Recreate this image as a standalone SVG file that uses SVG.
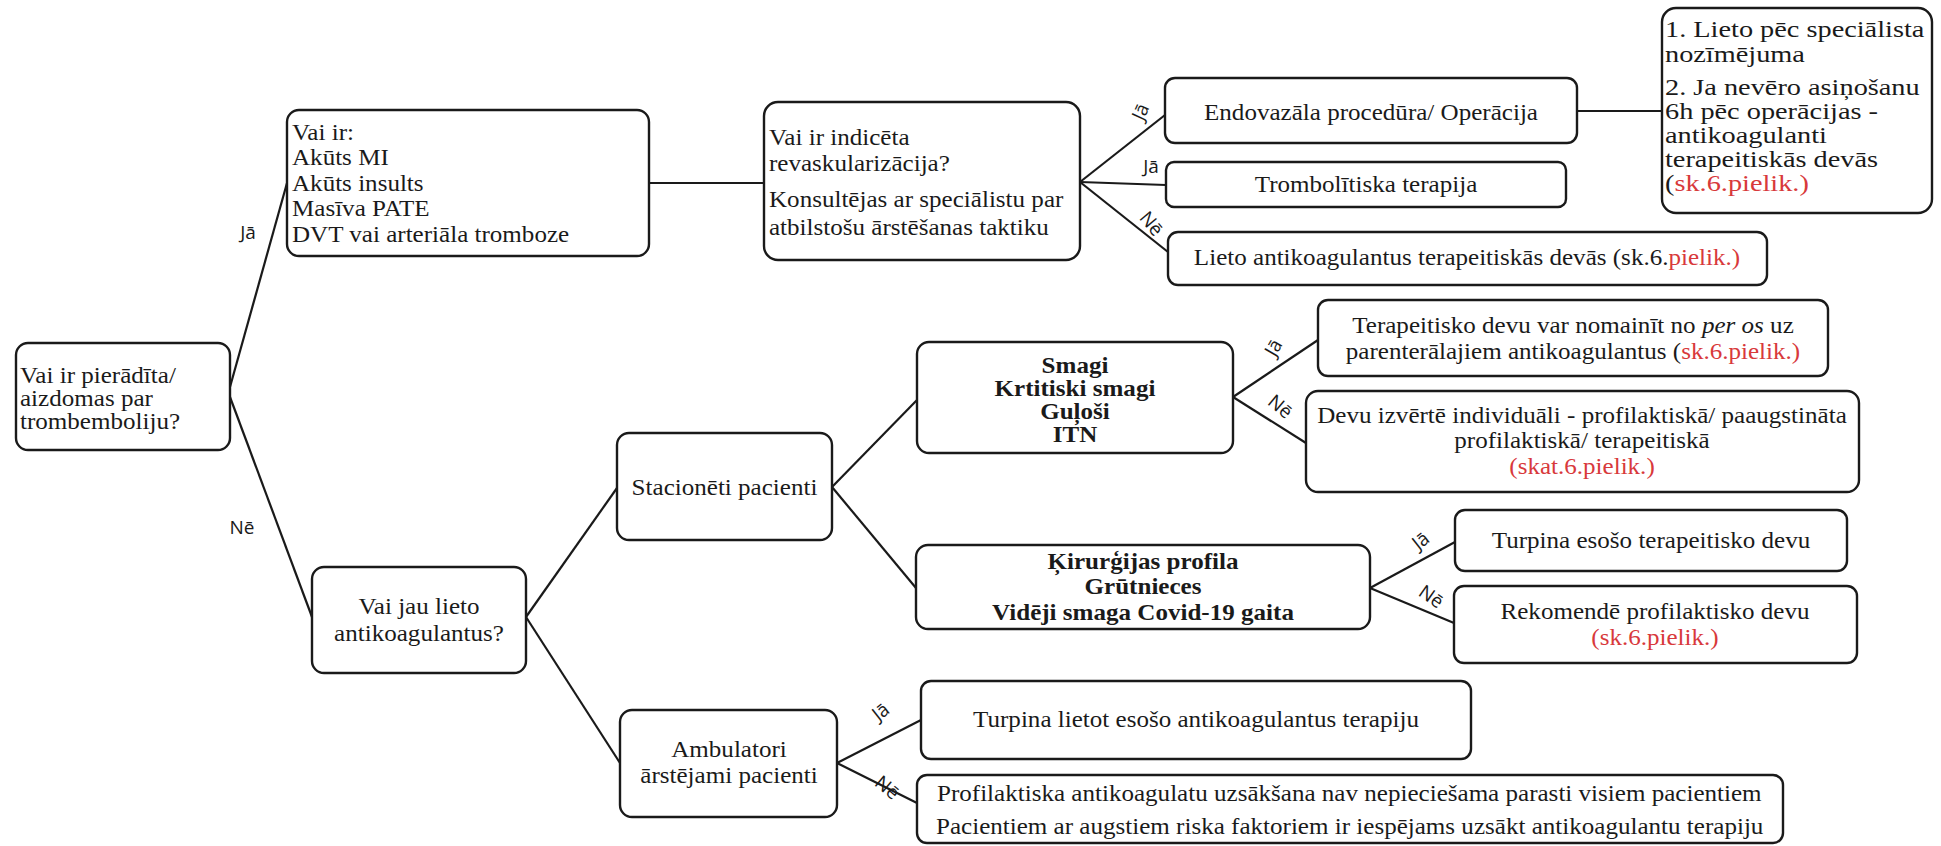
<svg xmlns="http://www.w3.org/2000/svg" width="1941" height="846" viewBox="0 0 1941 846">
<style>
.box{fill:#ffffff;stroke:#1a1a1a;stroke-width:2.4}
.ln{stroke:#1a1a1a;stroke-width:2.2;fill:none}
.t{font-family:"Liberation Serif","Times New Roman",serif;font-size:23px;fill:#1a1a1a}
.s{font-size:24px}
.b{font-weight:bold}
.c{text-anchor:middle}
.r{fill:#d8393b}
.lb{font-family:"Open Sans","Noto Sans",sans-serif;font-size:19px;fill:#1a1a1a;text-anchor:middle}
</style>
<rect width="1941" height="846" fill="#ffffff"/>
<g id="connectors">
<line class="ln" x1="230" y1="387" x2="287" y2="183"/>
<line class="ln" x1="230" y1="397" x2="312" y2="617"/>
<line class="ln" x1="649" y1="183" x2="764" y2="183"/>
<line class="ln" x1="1080" y1="182" x2="1165" y2="115"/>
<line class="ln" x1="1080" y1="182" x2="1166" y2="185"/>
<line class="ln" x1="1080" y1="182" x2="1168" y2="252"/>
<line class="ln" x1="1577" y1="111" x2="1662" y2="111"/>
<line class="ln" x1="526" y1="617" x2="617" y2="488"/>
<line class="ln" x1="526" y1="617" x2="620" y2="763"/>
<line class="ln" x1="832" y1="487" x2="917" y2="400"/>
<line class="ln" x1="832" y1="487" x2="916" y2="588"/>
<line class="ln" x1="1233" y1="397" x2="1318" y2="340"/>
<line class="ln" x1="1233" y1="397" x2="1306" y2="443"/>
<line class="ln" x1="1370" y1="588" x2="1455" y2="542"/>
<line class="ln" x1="1370" y1="588" x2="1454" y2="623"/>
<line class="ln" x1="837" y1="763" x2="921" y2="720"/>
<line class="ln" x1="837" y1="763" x2="917" y2="803"/>
<text class="lb" x="248" y="239">Jā</text>
<text class="lb" x="242" y="534">Nē</text>
<text class="lb" transform="translate(1141,112) rotate(-65)" y="6">Jā</text>
<text class="lb" x="1151" y="173">Jā</text>
<text class="lb" transform="translate(1151,224) rotate(50)" y="6">Nē</text>
<text class="lb" transform="translate(1274,348) rotate(-60)" y="6">Jā</text>
<text class="lb" transform="translate(1280,407) rotate(40)" y="6">Nē</text>
<text class="lb" transform="translate(1421,541) rotate(-38)" y="6">Jā</text>
<text class="lb" transform="translate(1431,597) rotate(35)" y="6">Nē</text>
<text class="lb" transform="translate(881,712) rotate(-38)" y="6">Jā</text>
<text class="lb" transform="translate(887,788) rotate(40)" y="6">Nē</text>
</g>
<g id="root">
<rect class="box" x="16" y="343" width="214" height="107" rx="12"/>
<text class="t" transform="translate(20,383) scale(1.09,1)">Vai ir pierādīta/</text>
<text class="t" transform="translate(20,406) scale(1.09,1)">aizdomas par</text>
<text class="t" transform="translate(20,429) scale(1.09,1)">trombemboliju?</text>
</g>
<g id="vai-ir">
<rect class="box" x="287" y="110" width="362" height="146" rx="12"/>
<text class="t" transform="translate(292,140) scale(1.09,1)">Vai ir:</text>
<text class="t" transform="translate(292,165) scale(1.09,1)">Akūts MI</text>
<text class="t" transform="translate(292,191) scale(1.09,1)">Akūts insults</text>
<text class="t" transform="translate(292,216) scale(1.09,1)">Masīva PATE</text>
<text class="t" transform="translate(292,242) scale(1.09,1)">DVT vai arteriāla tromboze</text>
</g>
<g id="revask">
<rect class="box" x="764" y="102" width="316" height="158" rx="14"/>
<text class="t" transform="translate(769,145) scale(1.09,1)">Vai ir indicēta</text>
<text class="t" transform="translate(769,171) scale(1.09,1)">revaskularizācija?</text>
<text class="t" transform="translate(769,207) scale(1.09,1)">Konsultējas ar speciālistu par</text>
<text class="t" transform="translate(769,235) scale(1.09,1)">atbilstošu ārstēšanas taktiku</text>
</g>
<g id="endovaz">
<rect class="box" x="1165" y="78" width="412" height="65" rx="10"/>
<text class="t c" transform="translate(1371,120) scale(1.09,1)">Endovazāla procedūra/ Operācija</text>
</g>
<g id="lieto-spec">
<rect class="box" x="1662" y="8" width="270" height="205" rx="14"/>
<text class="t s" transform="translate(1665,37) scale(1.18,1)">1. Lieto pēc speciālista</text>
<text class="t s" transform="translate(1665,62) scale(1.18,1)">nozīmējuma</text>
<text class="t s" transform="translate(1665,95) scale(1.18,1)">2. Ja nevēro asiņošanu</text>
<text class="t s" transform="translate(1665,119) scale(1.18,1)">6h pēc operācijas -</text>
<text class="t s" transform="translate(1665,143) scale(1.18,1)">antikoagulanti</text>
<text class="t s" transform="translate(1665,167) scale(1.18,1)">terapeitiskās devās</text>
<text class="t s" transform="translate(1665,191) scale(1.18,1)">(<tspan class="r">sk.6.pielik.)</tspan></text>
</g>
<g id="trombolit">
<rect class="box" x="1166" y="162" width="400" height="45" rx="8"/>
<text class="t c" transform="translate(1366,192) scale(1.09,1)">Trombolītiska terapija</text>
</g>
<g id="lieto-antik">
<rect class="box" x="1168" y="232" width="599" height="53" rx="10"/>
<text class="t c" transform="translate(1467,265) scale(1.09,1)">Lieto antikoagulantus terapeitiskās devās (sk.6.<tspan class="r">pielik.)</tspan></text>
</g>
<g id="vai-jau">
<rect class="box" x="312" y="567" width="214" height="106" rx="12"/>
<text class="t c" transform="translate(419,614) scale(1.09,1)">Vai jau lieto</text>
<text class="t c" transform="translate(419,641) scale(1.09,1)">antikoagulantus?</text>
</g>
<g id="stacioneti">
<rect class="box" x="617" y="433" width="215" height="107" rx="12"/>
<text class="t c" transform="translate(724.5,495) scale(1.09,1)">Stacionēti pacienti</text>
</g>
<g id="smagi">
<rect class="box" x="917" y="342" width="316" height="111" rx="12"/>
<text class="t b c" transform="translate(1075,373) scale(1.09,1)">Smagi</text>
<text class="t b c" transform="translate(1075,396) scale(1.09,1)">Krtitiski smagi</text>
<text class="t b c" transform="translate(1075,419) scale(1.09,1)">Guļoši</text>
<text class="t b c" transform="translate(1075,442) scale(1.09,1)">ITN</text>
</g>
<g id="terapeitisko">
<rect class="box" x="1318" y="300" width="510" height="76" rx="10"/>
<text class="t c" transform="translate(1573,333) scale(1.09,1)">Terapeitisko devu var nomainīt no <tspan font-style="italic">per os</tspan> uz</text>
<text class="t c" transform="translate(1573,359) scale(1.09,1)">parenterālajiem antikoagulantus (<tspan class="r">sk.6.pielik.)</tspan></text>
</g>
<g id="devu">
<rect class="box" x="1306" y="391" width="553" height="101" rx="12"/>
<text class="t c" transform="translate(1582,423) scale(1.09,1)">Devu izvērtē individuāli - profilaktiskā/ paaugstināta</text>
<text class="t c" transform="translate(1582,448) scale(1.09,1)">profilaktiskā/ terapeitiskā</text>
<text class="t c r" transform="translate(1582,474) scale(1.09,1)">(skat.6.pielik.)</text>
</g>
<g id="kirurgijas">
<rect class="box" x="916" y="545" width="454" height="84" rx="12"/>
<text class="t b c" transform="translate(1143,569) scale(1.09,1)">Ķirurģijas profila</text>
<text class="t b c" transform="translate(1143,594) scale(1.09,1)">Grūtnieces</text>
<text class="t b c" transform="translate(1143,620) scale(1.09,1)">Vidēji smaga Covid-19 gaita</text>
</g>
<g id="turpina-esoso">
<rect class="box" x="1455" y="510" width="392" height="61" rx="10"/>
<text class="t c" transform="translate(1651,548) scale(1.09,1)">Turpina esošo terapeitisko devu</text>
</g>
<g id="rekomende">
<rect class="box" x="1454" y="586" width="403" height="77" rx="10"/>
<text class="t c" transform="translate(1655,619) scale(1.09,1)">Rekomendē profilaktisko devu</text>
<text class="t c r" transform="translate(1655,645) scale(1.09,1)">(sk.6.pielik.)</text>
</g>
<g id="ambulatori">
<rect class="box" x="620" y="710" width="217" height="107" rx="12"/>
<text class="t c" transform="translate(729,757) scale(1.09,1)">Ambulatori</text>
<text class="t c" transform="translate(729,783) scale(1.09,1)">ārstējami pacienti</text>
</g>
<g id="turpina-lietot">
<rect class="box" x="921" y="681" width="550" height="78" rx="10"/>
<text class="t c" transform="translate(1196,727) scale(1.09,1)">Turpina lietot esošo antikoagulantus terapiju</text>
</g>
<g id="profilaktiska">
<rect class="box" x="917" y="775" width="866" height="68" rx="10"/>
<text class="t" transform="translate(937,801) scale(1.09,1)">Profilaktiska antikoagulatu uzsākšana nav nepieciešama parasti visiem pacientiem</text>
<text class="t" transform="translate(936,834) scale(1.09,1)">Pacientiem ar augstiem riska faktoriem ir iespējams uzsākt antikoagulantu terapiju</text>
</g>
</svg>
